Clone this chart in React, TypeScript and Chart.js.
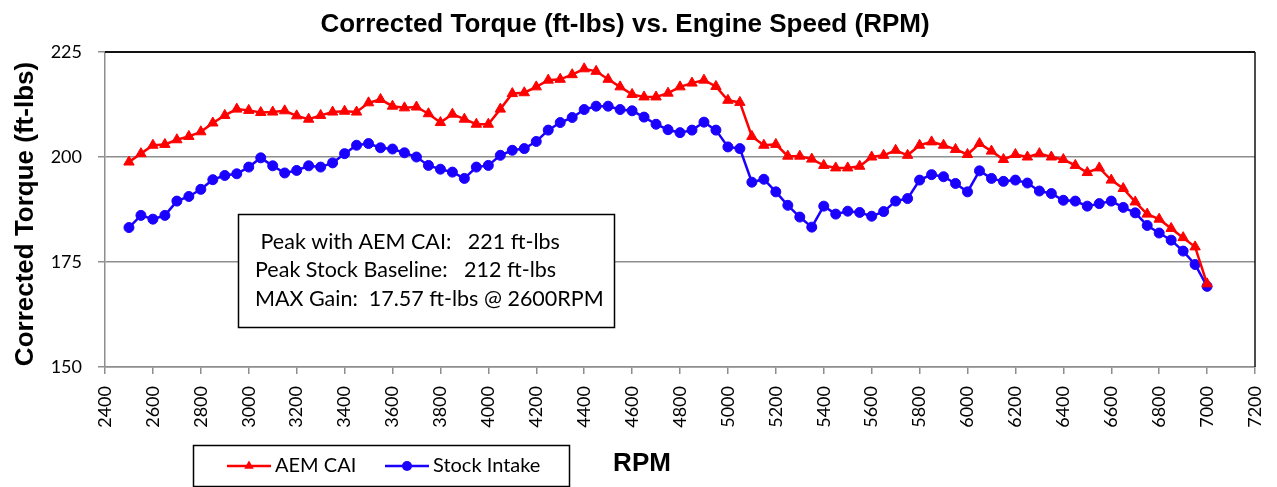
import React, { useEffect, useRef } from "react";
import { Chart, registerables } from "chart.js";

Chart.register(...registerables);

const rpm = [
  2500, 2550, 2600, 2650, 2700, 2750, 2800, 2850, 2900, 2950,
  3000, 3050, 3100, 3150, 3200, 3250, 3300, 3350, 3400, 3450,
  3500, 3550, 3600, 3650, 3700, 3750, 3800, 3850, 3900, 3950,
  4000, 4050, 4100, 4150, 4200, 4250, 4300, 4350, 4400, 4450,
  4500, 4550, 4600, 4650, 4700, 4750, 4800, 4850, 4900, 4950,
  5000, 5050, 5100, 5150, 5200, 5250, 5300, 5350, 5400, 5450,
  5500, 5550, 5600, 5650, 5700, 5750, 5800, 5850, 5900, 5950,
  6000, 6050, 6100, 6150, 6200, 6250, 6300, 6350, 6400, 6450,
  6500, 6550, 6600, 6650, 6700, 6750, 6800, 6850, 6900, 6950,
  7000,
];

const aemCai = [
  198.8, 200.8, 202.8, 203.0, 204.1, 204.9, 206.0, 208.1, 209.9, 211.4,
  211.1, 210.6, 210.7, 211.0, 209.8, 209.0, 209.9, 210.7, 210.9, 210.7,
  212.9, 213.7, 212.1, 211.7, 211.9, 210.3, 208.2, 210.2, 209.0, 207.8,
  207.8, 211.4, 215.1, 215.3, 216.7, 218.3, 218.5, 219.6, 221.0, 220.4,
  218.5, 216.7, 214.9, 214.3, 214.3, 215.2, 216.7, 217.6, 218.3, 216.8,
  213.5, 213.0, 204.9, 202.8, 203.0, 200.2, 200.2, 199.5, 198.0, 197.4,
  197.4, 197.8, 200.0, 200.4, 201.6, 200.4, 202.8, 203.6, 202.8, 201.8,
  200.6, 203.2, 201.4, 199.4, 200.6, 200.0, 200.8, 200.0, 199.4, 198.0,
  196.3, 197.4, 194.5, 192.5, 189.3, 186.4, 185.2, 183.0, 180.8, 178.6,
  169.8,
];

const stockIntake = [
  183.2, 186.1, 185.2, 186.1, 189.5, 190.6, 192.3, 194.6, 195.6, 196.0,
  197.6, 199.8, 197.9, 196.2, 196.8, 197.9, 197.6, 198.6, 200.8, 202.8,
  203.2, 202.2, 201.9, 201.0, 200.0, 198.0, 197.1, 196.4, 194.9, 197.6,
  198.0, 200.4, 201.6, 202.0, 203.7, 206.4, 208.2, 209.4, 211.3, 212.1,
  212.1, 211.3, 211.0, 209.5, 207.8, 206.5, 205.8, 206.4, 208.3, 206.4,
  202.4, 202.0, 194.0, 194.7, 191.7, 188.5, 185.7, 183.3, 188.3, 186.4,
  187.1, 186.8, 185.9, 187.0, 189.5, 190.1, 194.5, 195.8, 195.3, 193.7,
  191.7, 196.7, 194.9, 194.2, 194.5, 193.8, 191.9, 191.3, 189.7, 189.5,
  188.3, 188.9, 189.5, 188.0, 186.7, 183.7, 181.9, 180.2, 177.6, 174.4,
  169.2,
];

const xTickValues = [
  2400, 2600, 2800, 3000, 3200, 3400, 3600, 3800, 4000, 4200, 4400, 4600, 4800,
  5000, 5200, 5400, 5600, 5800, 6000, 6200, 6400, 6600, 6800, 7000, 7200,
];
const yTickValues = [150, 175, 200, 225];

const seriesNames = ["AEM CAI", "Stock Intake"];
const chartTitle = "Corrected Torque (ft-lbs) vs. Engine Speed (RPM)";
const yAxisTitle = "Corrected Torque (ft-lbs)";
const xAxisTitle = "RPM";
const annotationLines = [
  " Peak with AEM CAI:   221 ft-lbs",
  "Peak Stock Baseline:   212 ft-lbs",
  "MAX Gain:  17.57 ft-lbs @ 2600RPM",
];

const W = 1277;
const H = 487;
const RED = "#ff0000";
const BLUE = "#1a00ff";
const GRID = "#8e8e8e";
const BODY_FONT = "Lato, Carlito, 'Open Sans', sans-serif";
const BOLD_FONT = "'Liberation Sans', Arial, sans-serif";

const overlayPlugin = {
  id: "overlay",
  afterDraw(chart: any) {
    const ctx = chart.ctx as CanvasRenderingContext2D;
    const a = chart.chartArea;
    ctx.save();

    // top & right borders
    ctx.strokeStyle = "#111";
    ctx.lineWidth = 2;
    ctx.beginPath();
    ctx.moveTo(a.left, a.top);
    ctx.lineTo(a.right, a.top);
    ctx.stroke();
    ctx.lineWidth = 1.5;
    ctx.beginPath();
    ctx.moveTo(a.right, a.top);
    ctx.lineTo(a.right, a.bottom);
    ctx.stroke();

    // chart title
    ctx.fillStyle = "#000";
    ctx.font = `bold 26px ${BOLD_FONT}`;
    ctx.textAlign = "center";
    ctx.textBaseline = "alphabetic";
    ctx.fillText(chartTitle, 625, 32);

    // y axis title
    ctx.save();
    ctx.translate(33, 214);
    ctx.rotate(-Math.PI / 2);
    ctx.fillText(yAxisTitle, 0, 0);
    ctx.restore();

    // x axis title
    ctx.fillText(xAxisTitle, 642, 471);

    // annotation box
    ctx.fillStyle = "#fff";
    ctx.fillRect(238, 214, 376, 113);
    ctx.strokeStyle = "#000";
    ctx.lineWidth = 1.5;
    ctx.strokeRect(238.5, 214.5, 376, 113);
    ctx.fillStyle = "#000";
    ctx.font = `21.5px ${BODY_FONT}`;
    ctx.textAlign = "left";
    ctx.textBaseline = "middle";
    annotationLines.forEach((line, i) => {
      ctx.fillText(line, 255, 242 + i * 28.5);
    });

    // legend box
    ctx.fillStyle = "#fff";
    ctx.fillRect(193, 445, 376, 41);
    ctx.strokeStyle = "#000";
    ctx.lineWidth = 1.5;
    ctx.strokeRect(193.5, 445.5, 376, 41);

    const ly = 466;
    const items = [
      { x0: 227, x1: 271, tx: 275, color: RED, style: "triangle" },
      { x0: 385, x1: 429, tx: 433, color: BLUE, style: "circle" },
    ];
    items.forEach((it, i) => {
      ctx.strokeStyle = it.color;
      ctx.lineWidth = 2.5;
      ctx.beginPath();
      ctx.moveTo(it.x0, ly);
      ctx.lineTo(it.x1, ly);
      ctx.stroke();
      const cx = (it.x0 + it.x1) / 2;
      ctx.fillStyle = it.color;
      ctx.beginPath();
      if (it.style === "triangle") {
        const r = 5.5;
        ctx.moveTo(cx, ly - r);
        ctx.lineTo(cx + r * 0.866, ly + r * 0.5);
        ctx.lineTo(cx - r * 0.866, ly + r * 0.5);
        ctx.closePath();
      } else {
        ctx.arc(cx, ly, 5, 0, Math.PI * 2);
      }
      ctx.fill();
      ctx.fillStyle = "#000";
      ctx.font = `20px ${BODY_FONT}`;
      ctx.textAlign = "left";
      ctx.textBaseline = "middle";
      ctx.fillText(seriesNames[i], it.tx, ly);
    });

    ctx.restore();
  },
};

export default function App() {
  const canvasRef = useRef<HTMLCanvasElement | null>(null);

  useEffect(() => {
    let chart: Chart | null = null;
    let cancelled = false;
    const build = () => {
      if (cancelled || !canvasRef.current) return;
      chart = new Chart(canvasRef.current, {
        type: "line",
        data: {
          datasets: [
            {
              label: seriesNames[0],
              data: rpm.map((x, i) => ({ x, y: aemCai[i] })),
              borderColor: RED,
              backgroundColor: RED,
              borderWidth: 2.5,
              pointStyle: "triangle",
              pointRadius: 6,
              pointBorderWidth: 1,
              pointBackgroundColor: RED,
              pointBorderColor: RED,
              tension: 0,
            },
            {
              label: seriesNames[1],
              data: rpm.map((x, i) => ({ x, y: stockIntake[i] })),
              borderColor: BLUE,
              backgroundColor: BLUE,
              borderWidth: 2.5,
              pointStyle: "circle",
              pointRadius: 5,
              pointBorderWidth: 1,
              pointBackgroundColor: BLUE,
              pointBorderColor: BLUE,
              tension: 0,
            },
          ],
        },
        options: {
          animation: false,
          responsive: false,
          maintainAspectRatio: false,
          events: [],
          layout: { padding: { top: 52, right: 22, left: 0, bottom: 0 } },
          plugins: {
            legend: { display: false },
            title: { display: false },
            tooltip: { enabled: false },
          },
          scales: {
            x: {
              type: "linear",
              min: 2400,
              max: 7200,
              afterFit: (s: any) => {
                s.height = 120;
                s.paddingLeft = 0;
                s.paddingRight = 0;
              },
              afterBuildTicks: (s: any) => {
                s.ticks = xTickValues.map((v) => ({ value: v }));
              },
              ticks: {
                autoSkip: false,
                minRotation: 90,
                maxRotation: 90,
                padding: 12,
                color: "#000",
                font: { family: BODY_FONT, size: 18 },
                callback: (v: any) => String(v),
              },
              grid: {
                drawOnChartArea: false,
                drawTicks: true,
                tickLength: 7,
                color: GRID,
                lineWidth: 1.5,
              },
              border: { color: GRID, width: 1.5 },
            },
            y: {
              type: "linear",
              min: 150,
              max: 225,
              afterFit: (s: any) => {
                s.width = 105;
                s.paddingTop = 0;
                s.paddingBottom = 0;
              },
              afterBuildTicks: (s: any) => {
                s.ticks = yTickValues.map((v) => ({ value: v }));
              },
              ticks: {
                padding: 16,
                color: "#000",
                font: { family: BODY_FONT, size: 18 },
                callback: (v: any) => String(v),
              },
              grid: {
                color: GRID,
                lineWidth: 1.5,
                tickLength: 7,
              },
              border: { color: GRID, width: 1.5 },
            },
          },
        },
        plugins: [overlayPlugin],
      });
    };
    const fonts = (document as any).fonts;
    if (fonts && fonts.load) {
      Promise.all([
        fonts.load("18px Lato"),
        fonts.load("20px Lato"),
        fonts.load("bold 26px 'Liberation Sans'"),
      ])
        .catch(() => null)
        .then(build);
    } else {
      build();
    }
    return () => {
      cancelled = true;
      if (chart) chart.destroy();
    };
  }, []);

  return (
    <div style={{ position: "fixed", left: 0, top: 0, width: W, height: H, background: "#fff" }}>
      <canvas ref={canvasRef} width={W} height={H} style={{ width: W, height: H, display: "block" }} />
    </div>
  );
}
